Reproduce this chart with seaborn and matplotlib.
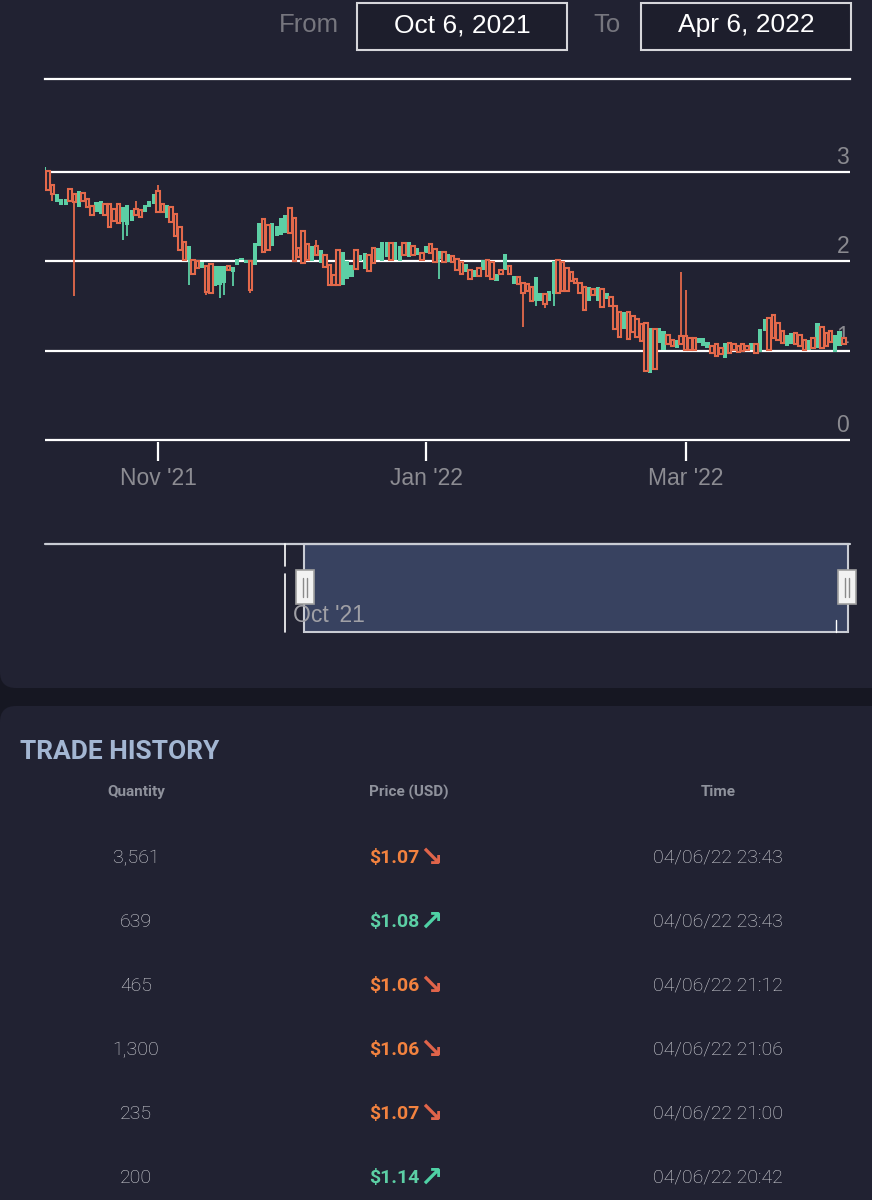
import numpy as np
import pandas as pd
import matplotlib
matplotlib.use("Agg")
import matplotlib.pyplot as plt
import matplotlib.dates as mdates
import seaborn as sns
from matplotlib.patches import Rectangle, FancyBboxPatch
from matplotlib.lines import Line2D
from matplotlib.transforms import IdentityTransform, blended_transform_factory, offset_copy

# ---------------- data ----------------
start_date = "2021-10-06"

opens = [
    2.99, 3.01, 2.86, 2.66, 2.63, 2.63, 2.81, 2.75, 2.61, 2.77,
    2.70, 2.62, 2.55, 2.53, 2.64, 2.64, 2.59, 2.64, 2.44, 2.41,
    2.45, 2.59, 2.57, 2.55, 2.61, 2.64, 2.79, 2.64, 2.48, 2.61,
    2.53, 2.39, 2.22, 2.01, 2.01, 2.00, 1.92, 1.95, 1.97, 1.72,
    1.74, 1.76, 1.95, 1.88, 1.96, 2.01,
    1.98, 2.00, 1.96, 2.17, 2.47, 2.41, 2.17, 2.28, 2.30, 2.32,
    2.60, 2.49, 2.15, 2.34, 2.19, 2.00, 2.17, 1.98, 2.07, 1.96,
    1.85, 2.13, 1.74, 1.80, 1.82, 2.13, 2.00, 1.91, 2.07, 2.15,
    2.02, 2.00, 2.05, 2.21, 2.02, 2.00, 2.21, 2.05, 2.17, 2.07,
    2.09, 2.09, 2.19,
    2.14, 2.03, 2.10, 1.99, 2.06, 2.03, 1.99, 1.88, 1.90, 1.82,
    1.92, 1.90, 2.01, 1.99, 1.78, 1.90, 1.90, 1.95, 1.75, 1.82,
    1.76, 1.75, 1.71, 1.56, 1.56, 1.63, 1.56, 1.63, 2.01, 1.99,
    1.93, 1.88, 1.80, 1.76, 1.71, 1.56, 1.69, 1.56, 1.69, 1.58,
    1.60, 1.50, 1.43, 1.24, 1.43, 1.39, 1.35, 1.30,
    1.31, 0.75, 1.24, 1.09, 1.01, 1.18, 1.12, 1.03, 1.16, 1.16,
    1.14, 1.14, 1.09, 1.05, 1.03, 1.05, 1.07, 1.03, 0.92, 1.09,
    1.07, 1.05, 1.07, 1.05, 1.01, 1.07, 0.99, 1.22, 1.37, 1.40,
    1.31, 1.22, 1.05, 1.07, 1.20, 1.18, 1.12, 1.01, 1.14, 1.03,
    1.27, 1.20, 1.22, 0.99, 1.05, 1.14,
]

closes = [
    3.06, 2.80, 2.75, 2.75, 2.70, 2.70, 2.68, 2.66, 2.79, 2.68,
    2.61, 2.52, 2.66, 2.68, 2.52, 2.39, 2.45, 2.43, 2.61, 2.63,
    2.58, 2.52, 2.50, 2.63, 2.68, 2.75, 2.55, 2.55, 2.63, 2.44,
    2.28, 2.13, 2.01, 2.17, 1.86, 1.93, 1.99, 1.66, 1.64, 1.95,
    1.95, 1.95, 1.90, 1.94, 2.03, 2.04,
    2.02, 1.68, 2.20, 2.43, 2.11, 2.13, 2.43, 2.40, 2.48, 2.52,
    2.32, 2.00, 2.05, 1.98, 2.02, 2.17, 2.07, 2.13, 1.94, 1.74,
    1.74, 1.74, 2.11, 2.00, 1.96, 1.91, 2.07, 2.09, 1.89, 1.98,
    2.15, 2.22, 2.22, 2.02, 2.22, 2.17, 2.07, 2.22, 2.07, 2.15,
    2.02, 2.17, 2.09,
    1.99, 2.12, 1.99, 2.08, 1.99, 1.90, 1.86, 1.97, 1.80, 1.90,
    1.84, 2.01, 1.84, 1.80, 1.86, 1.86, 2.08, 1.86, 1.84, 1.75,
    1.65, 1.67, 1.56, 1.82, 1.65, 1.52, 1.67, 2.00, 1.65, 1.67,
    1.67, 1.78, 1.76, 1.65, 1.45, 1.71, 1.62, 1.71, 1.49, 1.65,
    1.50, 1.24, 1.15, 1.43, 1.13, 1.21, 1.15, 1.11,
    0.77, 1.25, 0.79, 1.25, 1.22, 1.07, 1.05, 1.12, 1.07, 1.01,
    1.01, 1.01, 1.14, 1.14, 1.10, 0.97, 0.94, 0.96, 1.09, 0.97,
    1.01, 0.99, 1.00, 1.01, 1.09, 0.97, 1.24, 1.35, 1.01, 1.14,
    1.12, 1.09, 1.18, 1.20, 1.07, 1.05, 1.01, 1.12, 1.03, 1.31,
    1.03, 1.05, 1.10, 1.18, 1.22, 1.07,
]

# wicks reaching beyond the candle body (day index -> price)
wick_highs = {0: 3.07, 21: 2.68, 26: 2.85, 62: 2.24, 145: 1.88, 146: 1.68}
wick_lows = {0: 2.70, 2: 2.68, 7: 1.61, 18: 2.24, 19: 2.28, 33: 1.73, 37: 1.62,
             40: 1.59, 41: 1.62, 43: 1.72, 47: 1.65, 90: 1.80, 109: 1.26,
             112: 1.50, 114: 1.48, 116: 1.50}

y_ticks = [0, 1, 2, 3]
y_tick_labels = ["0", "1", "2", "3"]
y_max = 4.04
x_tick_dates = ["2021-11-01", "2022-01-01", "2022-03-01"]
x_tick_labels = ["Nov '21", "Jan '22", "Mar '22"]
range_from = "Oct 6, 2021"
range_to = "Apr 6, 2022"
navigator_label = "Oct '21"

table_title = "TRADE HISTORY"
table_headers = ["Quantity", "Price (USD)", "Time"]
trade_qty = ["3,561", "639", "465", "1,300", "235", "200"]
trade_price = [1.07, 1.08, 1.06, 1.06, 1.07, 1.14]
trade_up = [False, True, False, False, False, True]
trade_time = ["04/06/22 23:43", "04/06/22 23:43", "04/06/22 21:12",
              "04/06/22 21:06", "04/06/22 21:00", "04/06/22 20:42"]

# ---------------- style ----------------
BG = "#212232"
STRIP = "#161722"
GREEN = "#5ccfa5"
RED = "#e3694b"
ORANGE = "#f2823f"
GRID = "#ffffff"
W, H = 872, 1200

sns.set_theme(style="dark", rc={"axes.facecolor": BG, "figure.facecolor": STRIP})
plt.rcParams["font.family"] = ["Liberation Sans", "DejaVu Sans"]
TABLE_FONT = ["Roboto", "DejaVu Sans"]

fig = plt.figure(figsize=(W / 100, H / 100), dpi=100)
fig.patch.set_facecolor(STRIP)
PX = IdentityTransform()


def fx(x):
    return x / W


def fy(y):
    return 1 - y / H


def panel(y0, y1):
    p = FancyBboxPatch((0, H - y1), W + 60, y1 - y0,
                       boxstyle="round,pad=0,rounding_size=16",
                       transform=PX, facecolor=BG, edgecolor="none", zorder=-10)
    fig.add_artist(p)


panel(-60, 688)
panel(706, 1260)

# ---------------- candlestick chart ----------------
UNIT = 89.33  # pixels per price unit
ax_bottom = 440 + 0.02 * UNIT
ax_top = 440 - y_max * UNIT
ax = fig.add_axes([fx(45), fy(ax_bottom), (850 - 45) / W, (ax_bottom - ax_top) / H])
ax.set_facecolor(BG)

dates = pd.date_range(start_date, periods=len(opens), freq="D")
xs = mdates.date2num(dates)
o = np.array(opens)
c = np.array(closes)
hi = np.array([wick_highs.get(i, max(a, b)) for i, (a, b) in enumerate(zip(opens, closes))])
lo = np.array([wick_lows.get(i, min(a, b)) for i, (a, b) in enumerate(zip(opens, closes))])
up = c >= o

wick_colors = [GREEN if u else RED for u in up]
ax.vlines(xs, lo, hi, colors=wick_colors, lw=1.3, zorder=2)
ax.bar(xs[up], c[up] - o[up], bottom=o[up], width=0.95, color=GREEN,
       linewidth=0, zorder=3)
ax.bar(xs[~up], o[~up] - c[~up], bottom=c[~up], width=0.8, facecolor=BG,
       edgecolor=RED, linewidth=1.5, zorder=3)

ax.set_xlim(xs[0] + 0.3, xs[-1] + 1.4)
ax.set_ylim(-0.02, y_max)
ax.set_yticks(y_ticks)
ax.yaxis.grid(True, color=GRID, lw=1.6)
ax.xaxis.grid(False)
ax.set_axisbelow(True)
ax.tick_params(axis="y", left=False, right=False, labelleft=False)
ax.set_xticks(mdates.date2num(pd.to_datetime(x_tick_dates)))
ax.set_xticklabels(x_tick_labels)
ax.tick_params(axis="x", bottom=True, length=14, width=1.6, color=GRID,
               labelcolor="#8c8c92", labelsize=16.5, pad=4)
for name, s in ax.spines.items():
    s.set_visible(name == "top")
ax.spines["top"].set_color(GRID)
ax.spines["top"].set_linewidth(1.6)

ytrans = offset_copy(blended_transform_factory(ax.transAxes, ax.transData),
                     fig=fig, x=-1, y=3, units="dots")
for v, lab in zip(y_ticks, y_tick_labels):
    ax.text(1.0, v, lab, transform=ytrans, ha="right", va="bottom",
            color="#8a8a90", fontsize=16.5, clip_on=False, zorder=1)

# ---------------- range selector ----------------
fig.text(fx(309), fy(25), "From", ha="center", va="center", color="#76767e", fontsize=18.5)
fig.text(fx(607), fy(25), "To", ha="center", va="center", color="#76767e", fontsize=18.5)
for x0, x1, label in [(357, 567, range_from), (641, 851, range_to)]:
    fig.add_artist(Rectangle((x0, H - 50), x1 - x0, 47, transform=PX,
                             facecolor="#1d1e2c", edgecolor="#d6d6da", lw=1.5))
    fig.text(fx((x0 + x1) / 2), fy(25), label, ha="center", va="center",
             color="white", fontsize=19)

# ---------------- navigator ----------------
NAV = "#c9ccd4"
fig.add_artist(Line2D([45, 850], [H - 544, H - 544], transform=PX, color=NAV, lw=1.6))
fig.add_artist(Rectangle((304, H - 632), 544, 88, transform=PX,
                         facecolor="#384260", edgecolor=NAV, lw=1.5))
fig.add_artist(Line2D([285, 285], [H - 544, H - 566], transform=PX, color="white", lw=1.2))
fig.add_artist(Line2D([285, 285], [H - 574, H - 632], transform=PX, color="white", lw=1.2))
fig.add_artist(Line2D([836, 836], [H - 620, H - 632], transform=PX, color="white", lw=1.0))
fig.text(fx(293), fy(615), navigator_label, ha="left", va="center",
         color="#a0a0a6", fontsize=16.5)
for hx in (296, 838):
    fig.add_artist(Rectangle((hx, H - 604), 18, 34, transform=PX,
                             facecolor="#f2f2f2", edgecolor="#a0a0a0", lw=1.2))
    for lx in (hx + 7, hx + 11):
        fig.add_artist(Line2D([lx, lx], [H - 578, H - 597], transform=PX,
                              color="#8a8a8a", lw=1.0))

# ---------------- trade history ----------------
fig.text(fx(20), fy(752), table_title, ha="left", va="center", color="#a3b6d2",
         fontsize=19, fontweight="bold", family=TABLE_FONT)
for hx, h in zip((136, 409, 718), table_headers):
    fig.text(fx(hx), fy(792), h, ha="center", va="center", color="#8f929c",
             fontsize=11, fontweight="bold", family=TABLE_FONT)

for i, (q, p, u, t) in enumerate(zip(trade_qty, trade_price, trade_up, trade_time)):
    yy = 858 + 64 * i
    col = GREEN if u else ORANGE
    arrow_col = "#4fd1a5" if u else "#e0644a"
    fig.text(fx(136), fy(yy), q, ha="center", va="center", color="#d6d7dc",
             fontsize=14, fontweight="light", family=TABLE_FONT)
    fig.text(fx(369), fy(yy), "\\$%.2f" % p, ha="left", va="center", color=col,
             fontsize=14, fontweight="bold", family=TABLE_FONT)
    fig.text(fx(431), fy(yy), "\u2197" if u else "\u2198", ha="center", va="center",
             color=arrow_col, fontsize=20, fontweight="bold", family=["DejaVu Sans"])
    fig.text(fx(718), fy(yy), t, ha="center", va="center", color="#d6d7dc",
             fontsize=14, fontweight="light", family=TABLE_FONT)

fig.savefig("out.png", dpi=100, facecolor=fig.get_facecolor())
